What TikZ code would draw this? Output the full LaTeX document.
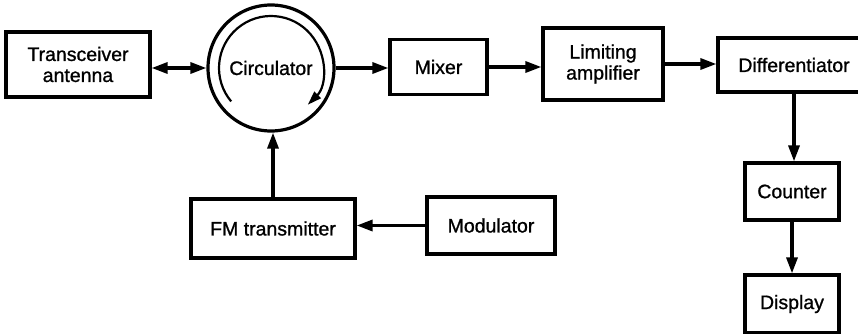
\documentclass[tikz,border=0pt]{standalone}
\usepackage{fontspec}
\setmainfont{Liberation Sans}
\newfontfamily\boxfont[FakeBold=1]{Liberation Sans}
\usetikzlibrary{arrows.meta}
\begin{document}
\begin{tikzpicture}[x=1pt,y=1pt,
  txt/.style={font=\boxfont\fontsize{19.5}{21}\selectfont},
  box/.style={draw, line width=3.2pt, rectangle, inner sep=0pt, align=center, txt},
  arr/.style={line width=3.2pt, -{Triangle[length=16pt,width=11pt]}},
  darr/.style={line width=3.2pt, {Triangle[length=16pt,width=11pt]}-{Triangle[length=16pt,width=11pt]}}]
\useasboundingbox (0,0) rectangle (858,-334);
\node[box, minimum width=144, minimum height=65] (ta) at (78,-64.5) {Transceiver\\antenna};
\node[draw, circle, line width=3.2pt, minimum size=126, inner sep=0pt, txt] (circ) at (271,-68) {Circulator};
\draw[line width=2.2pt, -{Triangle[length=14pt,width=9pt]}]
   ([shift={(220:52)}]circ.center) arc[start angle=220, end angle=-45, radius=52];
\node[box, minimum width=97, minimum height=55] (mix) at (438.5,-67) {Mixer};
\node[box, minimum width=120, minimum height=72] (lim) at (603,-64) {Limiting\\amplifier};
\node[box, minimum width=152, minimum height=54] (dif) at (794,-65) {Differentiator};
\node[box, minimum width=94, minimum height=57] (cnt) at (792,-191.5) {Counter};
\node[box, minimum width=94, minimum height=58] (dsp) at (792,-304) {Display};
\node[box, minimum width=164, minimum height=59] (fm) at (273,-228.5) {FM transmitter};
\node[box, minimum width=128, minimum height=57] (mod) at (491,-225.5) {Modulator};
\draw[darr] (ta.east |- circ) -- (circ.west);
\draw[arr] (circ.east) -- (circ.east -| mix.west);
\draw[arr] (mix.east) -- (mix.east -| lim.west);
\draw[arr] (lim.east) -- (lim.east -| dif.west);
\draw[arr] (dif.south) -- (dif.south |- cnt.north);
\draw[arr] (cnt.south) -- (cnt.south |- dsp.north);
\draw[arr] (mod.west) -- (mod.west -| fm.east);
\draw[arr] (fm.north) -- (fm.north |- circ.south);
\end{tikzpicture}
\end{document}
